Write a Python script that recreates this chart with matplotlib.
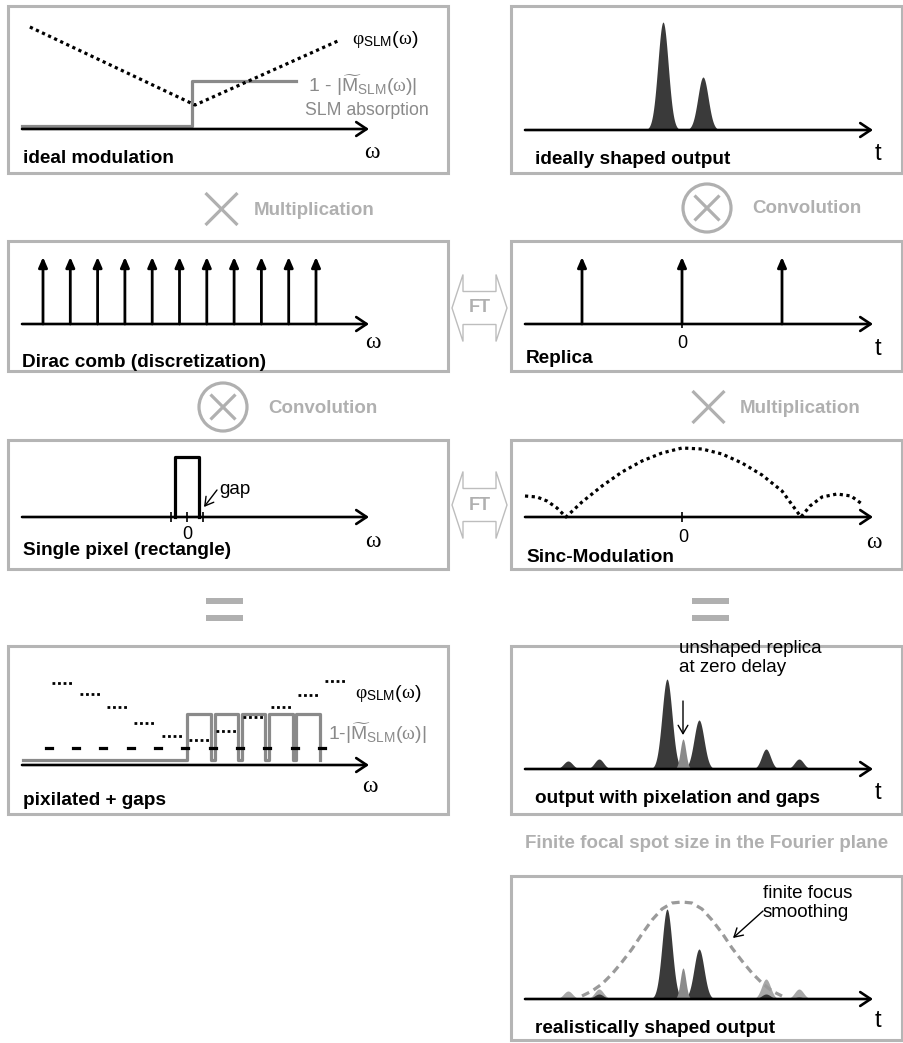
import matplotlib.pyplot as plt
import numpy as np
from matplotlib.patches import Circle, FancyArrowPatch, Polygon, Rectangle

plt.rcParams["font.family"] = ["Liberation Sans", "DejaVu Sans"]
plt.rcParams["mathtext.fontset"] = "custom"
plt.rcParams["mathtext.rm"] = "Liberation Sans"
plt.rcParams["mathtext.it"] = "Liberation Serif"
plt.rcParams["mathtext.bf"] = "Liberation Sans:bold"

# ---------------------------------------------------------------------------
# Data
# left column: omega in units of one SLM pixel pitch, right column: delay t
# (arb. units), all heights in arb. units above the axis
# ---------------------------------------------------------------------------
ideal_step_omega = [0.23, 6.46, 6.46, 10.27]
ideal_step_level = [0.3, 0.3, 4.8, 4.8]
ideal_phase_omega = [0.52, 6.57, 11.88]
ideal_phase = [10.2, 2.4, 8.9]

ideal_pulse_t = [-1.9, 2.1]
ideal_pulse_h = [10.8, 5.3]

comb_omega = [1, 2, 3, 4, 5, 6, 7, 8, 9, 10, 11]
comb_h = 6.7
replica_t = [-10, 0, 10]
replica_h = 6.7

pixel_edges = [-0.44, 0.44]
pixel_h = 6.0
pixel_ticks = [-0.59, 0.0, 0.59]

sinc_omega = [-15.7, -14.5, -13.5, -12.5, -11.6, -10, -8, -6, -4, -2, 0,
              2, 4, 6, 8, 10, 11.9, 12.8, 14, 15.5, 16.9, 18.0]
sinc_amp = [2.1, 2.0, 1.6, 0.9, 0.0, 1.5, 3.1, 4.5, 5.6, 6.4, 6.9,
            6.8, 6.3, 5.4, 4.2, 2.6, 0.0, 1.1, 2.0, 2.3, 2.1, 1.3]

pix_index = [1, 2, 3, 4, 5, 6, 7, 8, 9, 10, 11]
pix_phase = [8.2, 7.1, 5.8, 4.2, 2.9, 2.5, 3.4, 4.8, 5.8, 7.0, 8.4]
gap_phase = 1.7
pix_level = [0.5, 0.5, 0.5, 0.5, 0.5, 5.1, 5.1, 5.1, 5.1, 5.1]

out_t = [-11.4, -8.3, -1.5, 1.7, 8.4, 11.7]
out_h = [0.8, 1.0, 9.0, 4.9, 2.0, 1.0]
zero_t, zero_h = 0.1, 3.0

env_t = [-10, -9, -8, -7, -6, -5, -4, -3, -2, -1, 0,
         1, 2, 3, 4, 5, 6, 7, 8, 9, 10]
env_h = [0.3, 0.8, 1.5, 2.5, 3.7, 5.0, 6.5, 7.9, 9.0, 9.6, 9.7,
         9.6, 9.0, 7.9, 6.6, 5.1, 3.8, 2.6, 1.6, 0.8, 0.3]
real_main_t = [-1.5, 1.7]
real_main_h = [9.0, 5.0]
real_zero_h = 3.1
real_side_t = [-11.4, -8.3, 8.4, 11.7]
real_side_faded = [0.8, 1.0, 2.0, 1.0]
real_side_kept = [0.1, 0.5, 0.5, 0.2]

W, H = 904, 1043
DARK = "#3a3a3a"
MID = "#8a8a8a"
LIGHT = "#b0b0b0"
BOX = "#b5b5b5"
DOTS = (0, (1, 1.1))

fig = plt.figure(figsize=(W / 100, H / 100), dpi=100)


def panel(box, x0, sx, yb, sy=10.0):
    l, t, r, b = box
    ax = fig.add_axes([l / W, 1 - b / H, (r - l) / W, (b - t) / H])
    ax.set_xlim((l - x0) / sx, (r - x0) / sx)
    ax.set_ylim((yb - b) / sy, (yb - t) / sy)
    ax.axis("off")
    return ax


def pulse(ax, c, h, w, color):
    x = np.linspace(c - 4 * w, c + 4 * w, 81)
    ax.fill_between(x, 0, h * np.exp(-0.5 * ((x - c) / w) ** 2), color=color, lw=0)


def spike(ax, x, h):
    ax.add_patch(FancyArrowPatch((x, 0), (x, h), arrowstyle="-|>,head_length=6,head_width=2.6",
                                 mutation_scale=1, lw=2.0, color="k", shrinkA=0, shrinkB=0))


# panel boxes (pixels): left, top, right, bottom
LEFT_X, RIGHT_X = (8, 448), (511, 902)
rows = {"r1": (6, 173), "r2": (241, 371), "r3": (440, 569), "r4": (646, 814), "r5": (876, 1040)}

# --- ideal modulation
ax1 = panel((8, 6, 448, 173), 15.7, 27.3, 129)
ax1.plot(ideal_step_omega, ideal_step_level, color=MID, lw=2.3)
ax1.plot(ideal_phase_omega, ideal_phase, color="k", lw=2.3, ls=DOTS)

# --- ideally shaped output
ax2 = panel((511, 6, 902, 173), 682, 10, 130)
for c, h in zip(ideal_pulse_t, ideal_pulse_h):
    pulse(ax2, c, h, 0.52, DARK)

# --- Dirac comb
ax3 = panel((8, 241, 448, 371), 15.7, 27.3, 324)
for w in comb_omega:
    spike(ax3, w, comb_h)

# --- Replica
ax4 = panel((511, 241, 902, 371), 682, 10, 324)
for t in replica_t:
    spike(ax4, t, replica_h)
ax4.vlines([0], -0.35, 0.35, color="k", lw=1.2)

# --- single pixel
ax5 = panel((8, 440, 448, 569), 187, 27.3, 517)
ax5.plot([pixel_edges[0], pixel_edges[0], pixel_edges[1], pixel_edges[1]],
         [0, pixel_h, pixel_h, 0], color="k", lw=2.3)
ax5.vlines(pixel_ticks, -0.5, 0.5, color="k", lw=1.2)

# --- sinc modulation
ax6 = panel((511, 440, 902, 569), 682, 10, 517)
ax6.plot(sinc_omega, sinc_amp, color="k", lw=2.3, ls=DOTS)
ax6.vlines([0], -0.5, 0.5, color="k", lw=1.2)

# --- pixelated + gaps
ax7 = panel((8, 646, 448, 814), 35.2, 27.3, 765)
gx, gy = [-0.45], [pix_level[0]]
for k, lev in zip(pix_index, pix_level):
    if lev > pix_level[0]:
        gx += [k - 0.43, k - 0.43, k + 0.43, k + 0.43]
        gy += [pix_level[0], lev, lev, pix_level[0]]
ax7.plot(gx, gy, color=MID, lw=2.3)
for k, ph in zip(pix_index, pix_phase):
    ax7.plot([k - 0.37, k + 0.37], [ph, ph], color="k", lw=2.0, ls=(0, (1, 1.0)))
    ax7.plot([k - 0.61, k - 0.39], [gap_phase, gap_phase], color="k", lw=2.3)

# --- output with pixelation and gaps
ax8 = panel((511, 646, 902, 814), 682, 10, 769)
for c, h in zip(out_t, out_h):
    pulse(ax8, c, h, 0.5 if h > 3 else 0.45, DARK)
pulse(ax8, zero_t, zero_h, 0.28, MID)

# --- realistically shaped output
ax9 = panel((511, 876, 902, 1040), 682, 10, 999)
for c, h in zip(real_side_t, real_side_faded):
    pulse(ax9, c, h, 0.45, "#a8a8a8")
for c, h in zip(real_side_t, real_side_kept):
    pulse(ax9, c, h, 0.45, DARK)
for c, h in zip(real_main_t, real_main_h):
    pulse(ax9, c, h, 0.5, DARK)
pulse(ax9, zero_t, real_zero_h, 0.28, MID)
ax9.plot(env_t, env_h, color="#9a9a9a", lw=2.3, ls=(0, (2.5, 1.6)))

# ---------------------------------------------------------------------------
# overlay in pixel coordinates: frames, axes, symbols and text
# ---------------------------------------------------------------------------
ov = fig.add_axes([0, 0, 1, 1], zorder=10)
ov.set_xlim(0, W)
ov.set_ylim(H, 0)
ov.axis("off")
ov.patch.set_alpha(0)

for key, (t, b) in rows.items():
    cols = [RIGHT_X] if key == "r5" else [LEFT_X, RIGHT_X]
    for l, r in cols:
        ov.add_patch(Rectangle((l, t), r - l, b - t, fill=False, ec=BOX, lw=2.2))

# coordinate axes with open arrow heads
for y in (129, 324, 517, 765):
    ov.add_patch(FancyArrowPatch((22, y), (369, y), arrowstyle="->,head_length=7.5,head_width=5",
                                 mutation_scale=1, lw=1.9, color="k", shrinkA=0, shrinkB=0))
for y in (130, 324, 517, 769, 999):
    ov.add_patch(FancyArrowPatch((525, y), (873, y), arrowstyle="->,head_length=7.5,head_width=5",
                                 mutation_scale=1, lw=1.9, color="k", shrinkA=0, shrinkB=0))


def times(x, y, s=16):
    ov.plot([x - s, x + s], [y - s, y + s], color=LIGHT, lw=2.3, solid_capstyle="butt")
    ov.plot([x - s, x + s], [y + s, y - s], color=LIGHT, lw=2.3, solid_capstyle="butt")


def otimes(x, y, r=24):
    ov.add_patch(Circle((x, y), r, fill=False, ec=LIGHT, lw=2.3))
    times(x, y, 12.5)


hdr = dict(color=LIGHT, fontsize=13.5, fontweight="bold", va="baseline")
times(221.5, 209)
ov.text(254, 215, "Multiplication", **hdr)
otimes(707, 208)
ov.text(752, 213, "Convolution", **hdr)
otimes(223, 407)
ov.text(268, 413, "Convolution", **hdr)
times(708.5, 407)
ov.text(740, 413, "Multiplication", **hdr)
ov.text(525, 848, "Finite focal spot size in the Fourier plane", **hdr)

# equal signs
for x in (206, 692):
    for y in (598, 615):
        ov.add_patch(Rectangle((x, y), 37, 5.5, color=LIGHT, lw=0))

# Fourier transform double arrows
for cy in (308, 505):
    cx = 479.5
    pts = [(-27.5, 0), (-16.5, -33.5), (-16.5, -16.5), (16.5, -16.5), (16.5, -33.5),
           (27.5, 0), (16.5, 33.5), (16.5, 16.5), (-16.5, 16.5), (-16.5, 33.5)]
    ov.add_patch(Polygon([(cx + a, cy + b) for a, b in pts], closed=True, fill=False,
                         ec="#bdbdbd", lw=1.0))
    ov.text(cx, cy, "FT", color=LIGHT, fontsize=13, fontweight="bold", ha="center", va="center")

# panel titles
lab = dict(fontsize=13.7, fontweight="bold", va="baseline", color="k")
ov.text(23, 163, "ideal modulation", **lab)
ov.text(535, 164, "ideally shaped output", **lab)
ov.text(22, 367, "Dirac comb (discretization)", **lab)
ov.text(526, 363, "Replica", **lab)
ov.text(23, 555, "Single pixel (rectangle)", **lab)
ov.text(526, 562, "Sinc-Modulation", **lab)
ov.text(23, 805, "pixilated + gaps", **lab)
ov.text(535, 803, "output with pixelation and gaps", **lab)
ov.text(535, 1033, "realistically shaped output", **lab)

# axis names
om = dict(fontsize=17, family="Liberation Serif", ha="center", va="baseline")
for x, y in ((372, 158), (373, 348), (373, 547), (874, 548), (370, 792)):
    ov.text(x, y, "\u03c9", **om)
for y in (160, 355, 799, 1027):
    ov.text(878, y, "t", fontsize=17, ha="center", va="baseline")
for x, y in ((682, 348), (187, 539), (683, 542)):
    ov.text(x, y, "0", fontsize=13, ha="center", va="baseline")

# curve legends
phi = r"$\varphi_{\mathrm{SLM}}(\omega)$"
ov.text(352, 39, phi, fontsize=14, va="center")
ov.text(308, 85, r"$\text{1 - }|\widetilde{\mathrm{M}}_{\mathrm{SLM}}(\omega)|$",
        fontsize=14, va="center", color=MID)
ov.text(305, 115, "SLM absorption", fontsize=12.7, va="baseline", color=MID)
ov.text(355, 693, phi, fontsize=14, va="center")
ov.text(328, 733, r"$\text{1-}|\widetilde{\mathrm{M}}_{\mathrm{SLM}}(\omega)|$",
        fontsize=14, va="center", color=MID)

# annotations
note = dict(arrowstyle="->,head_length=6,head_width=3.5", mutation_scale=1, lw=1.0,
            color="k", shrinkA=0, shrinkB=0)
ov.text(219, 494, "gap", fontsize=13.5, va="baseline")
ov.add_patch(FancyArrowPatch((217, 490), (204, 507), **note))
ov.text(679, 672, "unshaped replica\nat zero delay", fontsize=13.5, va="baseline",
        linespacing=1.12)
ov.add_patch(FancyArrowPatch((683, 701), (683, 735), **note))
ov.text(763, 917, "finite focus\nsmoothing", fontsize=13.5, va="baseline", linespacing=1.12)
ov.add_patch(FancyArrowPatch((763, 911), (733, 938), **note))

fig.savefig("out.png", dpi=100)
